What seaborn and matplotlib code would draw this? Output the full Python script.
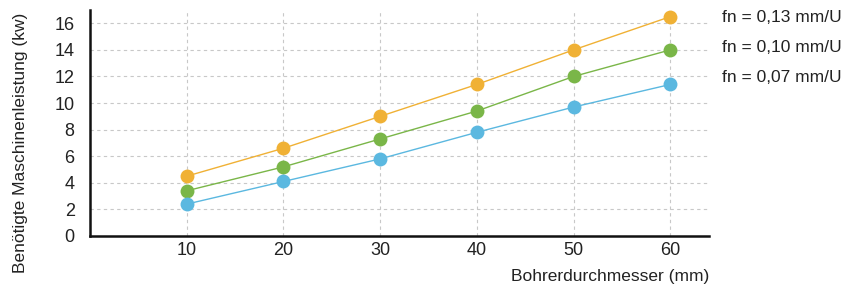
import matplotlib
matplotlib.use("Agg")
import matplotlib.pyplot as plt
import seaborn as sns
import pandas as pd

diameters = [10, 20, 30, 40, 50, 60]
fn_007 = [2.4, 4.1, 5.8, 7.8, 9.7, 11.4]
fn_010 = [3.4, 5.2, 7.3, 9.4, 12.0, 14.0]
fn_013 = [4.5, 6.6, 9.0, 11.4, 14.0, 16.5]
series_labels = ["fn = 0,13 mm/U", "fn = 0,10 mm/U", "fn = 0,07 mm/U"]
y_ticks = [0, 2, 4, 6, 8, 10, 12, 14, 16]
x_ticks = [10, 20, 30, 40, 50, 60]

sns.set_theme(style="white")
font = ["Liberation Sans Narrow", "Liberation Sans", "DejaVu Sans"]
plt.rcParams["font.family"] = font

rows = []
for lab, vals in zip(series_labels, [fn_013, fn_010, fn_007]):
    for d, v in zip(diameters, vals):
        rows.append({"d": d, "p": v, "fn": lab})
df = pd.DataFrame(rows)

palette = {series_labels[0]: "#F0B135", series_labels[1]: "#7AB648", series_labels[2]: "#5BB8E0"}

fig = plt.figure(figsize=(8.51, 2.89), dpi=100)
ax = fig.add_axes([90/851, 53/289, (709-90)/851, (236-10)/289])

sns.lineplot(data=df, x="d", y="p", hue="fn", palette=palette, marker="o",
             markersize=10, markeredgewidth=0, linewidth=1.0, legend=False, ax=ax, zorder=3)

ax.set_xlim(0, 64)
ax.set_ylim(0, 17)
ax.set_xticks(x_ticks)
ax.set_yticks(y_ticks)
ax.grid(True, linestyle=(0, (3, 3)), color="#c8c8c8", linewidth=0.8)
ax.set_axisbelow(True)
for s in ["top", "right"]:
    ax.spines[s].set_visible(False)
for s in ["left", "bottom"]:
    ax.spines[s].set_color("#111111")
    ax.spines[s].set_linewidth(1.8)
ax.tick_params(axis="both", length=0, labelsize=13, colors="#222222")
ax.tick_params(axis="x", pad=4)
ax.tick_params(axis="y", pad=11)

ax.set_xlabel("Bohrerdurchmesser (mm)", fontsize=12.5, color="#222222")
ax.xaxis.set_label_coords(1.0, -0.145)
ax.xaxis.label.set_ha("right")
ax.xaxis.label.set_va("top")
ax.set_ylabel("Benötigte Maschinenleistung (kw)", fontsize=12.5, color="#222222")
ax.yaxis.set_label_coords(-0.1, 0.41)

label_y = [17, 48, 78]
for lab, py in zip(series_labels, label_y):
    fig.text(722/851, 1 - py/289, lab, fontsize=12.5, color="#222222", va="center", ha="left")

fig.savefig("out.png", dpi=100)
